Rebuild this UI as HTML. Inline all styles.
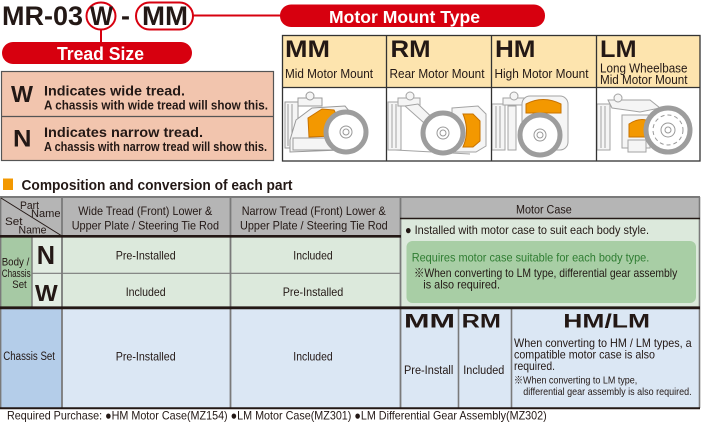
<!DOCTYPE html>
<html><head><meta charset="utf-8"><style>
html,body{margin:0;padding:0;background:#fff;}
svg{display:block;}
text{font-family:"Liberation Sans","Noto Sans CJK JP",sans-serif;fill:#231815;}
.b{font-weight:bold;}
</style></head><body>
<svg width="701" height="427" viewBox="0 0 701 427" xmlns="http://www.w3.org/2000/svg">
<rect x="0" y="0" width="701" height="427" fill="#fff"/>
<!-- Title -->
<text x="2" y="25" class="b" font-size="27" textLength="81" lengthAdjust="spacingAndGlyphs">MR-03</text>
<ellipse cx="101" cy="16" rx="14.5" ry="13.5" fill="none" stroke="#d7000f" stroke-width="2"/>
<text x="90" y="25" class="b" font-size="27" textLength="23" lengthAdjust="spacingAndGlyphs">W</text>
<text x="121" y="25" class="b" font-size="27">-</text>
<rect x="136" y="2.5" width="57" height="27" rx="13.5" fill="none" stroke="#d7000f" stroke-width="2"/>
<text x="142" y="25" class="b" font-size="27" textLength="46" lengthAdjust="spacingAndGlyphs">MM</text>
<line x1="193" y1="15.5" x2="284" y2="15.5" stroke="#d7000f" stroke-width="2"/>
<line x1="101" y1="30" x2="101" y2="43" stroke="#d7000f" stroke-width="2"/>
<rect x="280" y="4.5" width="265" height="22.5" rx="11" fill="#d7000f"/>
<text x="329" y="23" class="b" font-size="17.5" style="fill:#fff" textLength="151" lengthAdjust="spacingAndGlyphs">Motor Mount Type</text>
<rect x="2" y="42" width="190" height="22" rx="11" fill="#d7000f"/>
<text x="57" y="60" class="b" font-size="18" style="fill:#fff" textLength="87" lengthAdjust="spacingAndGlyphs">Tread Size</text>

<!-- Tread box -->
<rect x="1.5" y="71.5" width="272" height="89" fill="#f2c5ae" stroke="#555" stroke-width="1.2"/>
<line x1="1.5" y1="116.5" x2="273.5" y2="116.5" stroke="#555" stroke-width="1.2"/>
<text x="11" y="102" class="b" font-size="23" textLength="22" lengthAdjust="spacingAndGlyphs">W</text>
<text x="44" y="95.5" class="b" font-size="14" textLength="141" lengthAdjust="spacingAndGlyphs">Indicates wide tread.</text>
<text x="44" y="109.5" class="b" font-size="12.5" textLength="224" lengthAdjust="spacingAndGlyphs">A chassis with wide tread will show this.</text>
<text x="13" y="146.5" class="b" font-size="24" textLength="18.5" lengthAdjust="spacingAndGlyphs">N</text>
<text x="44" y="137" class="b" font-size="14" textLength="159" lengthAdjust="spacingAndGlyphs">Indicates narrow tread.</text>
<text x="44" y="151" class="b" font-size="12.5" textLength="223" lengthAdjust="spacingAndGlyphs">A chassis with narrow tread will show this.</text>

<!-- Motor mount table -->
<rect x="282" y="35" width="418" height="52" fill="#fde4ae"/>
<rect x="282" y="87" width="418" height="74" fill="#fff"/>
<text x="285" y="57" class="b" font-size="24" textLength="45" lengthAdjust="spacingAndGlyphs">MM</text>
<text x="390.5" y="57" class="b" font-size="24" textLength="40" lengthAdjust="spacingAndGlyphs">RM</text>
<text x="495" y="57" class="b" font-size="24" textLength="40.5" lengthAdjust="spacingAndGlyphs">HM</text>
<text x="600" y="57" class="b" font-size="24" textLength="36.5" lengthAdjust="spacingAndGlyphs">LM</text>
<text x="285" y="78" font-size="12.5" textLength="88" lengthAdjust="spacingAndGlyphs">Mid Motor Mount</text>
<text x="389.5" y="78" font-size="12.5" textLength="95" lengthAdjust="spacingAndGlyphs">Rear Motor Mount</text>
<text x="494.5" y="78" font-size="12.5" textLength="94" lengthAdjust="spacingAndGlyphs">High Motor Mount</text>
<text x="600" y="72.5" font-size="12.5" textLength="87.5" lengthAdjust="spacingAndGlyphs">Long Wheelbase</text>
<text x="600" y="84" font-size="12.5" textLength="87.5" lengthAdjust="spacingAndGlyphs">Mid Motor Mount</text>

<!-- photos -->
<g fill="#f5f5f5" stroke="#9a9a9a" stroke-width="1">
 <rect x="285" y="102" width="13" height="46"/><line x1="288" y1="104" x2="288" y2="146"/><line x1="292" y1="104" x2="292" y2="146"/>
 <rect x="298" y="98" width="24" height="8"/><circle cx="310" cy="96" r="4"/>
 <path d="M296 120 L312 108 L345 106 L350 112 L340 150 L290 152 L290 140 Z"/>
 <rect x="293" y="138" width="40" height="12"/>
</g>
<path d="M308 118 L322 109 L334 110 L338 118 L334 136 L309 137 Z" fill="#f39800" stroke="#c87200" stroke-width="1"/>
<g stroke="#a3a3a3" fill="#f5f5f5">
 <rect x="388" y="102" width="13" height="48"/><line x1="392" y1="104" x2="392" y2="148"/><line x1="396" y1="104" x2="396" y2="148"/>
 <rect x="398" y="98" width="22" height="8"/><circle cx="410" cy="96" r="4"/>
 <path d="M405 106 L418 104 L440 125 L432 130 Z"/>
 <path d="M452 108 L478 106 L486 114 L486 146 L476 152 L452 152 Z"/>
 <line x1="395" y1="150" x2="470" y2="154"/>
</g>
<path d="M463 114 L473 114 L480 121 L480 141 L473 147 L463 147 Q470 131 463 114 Z" fill="#f39800" stroke="#c87200"/>
<g stroke="#a3a3a3" fill="#f5f5f5">
 <rect x="492" y="104" width="13" height="46"/><line x1="496" y1="106" x2="496" y2="148"/><line x1="500" y1="106" x2="500" y2="148"/>
 <rect x="503" y="98" width="22" height="7"/><circle cx="514" cy="96" r="4"/>
 <rect x="522" y="96" width="46" height="54" rx="8"/>
 <path d="M508 106 L516 106 L516 150 L508 150 Z"/>
</g>
<path d="M526 113 L526 104 Q543 95 561 104 L561 113 Z" fill="#f39800" stroke="#c87200"/>
<g stroke="#a3a3a3" fill="#f5f5f5">
 <rect x="597" y="104" width="13" height="46"/><line x1="601" y1="106" x2="601" y2="148"/><line x1="605" y1="106" x2="605" y2="148"/>
 <path d="M608 100 L650 100 L660 108 L640 112 L612 108 Z"/>
 <circle cx="618" cy="98" r="4"/>
 <rect x="622" y="115" width="28" height="33"/>
 <rect x="628" y="140" width="18" height="12"/>
</g>
<path d="M629 124 Q638 118 646 120 L646 137 L629 137 Z" fill="#f39800" stroke="#c87200"/>
<g fill="#fff" stroke="#9d9d9d">
 <circle cx="346" cy="132" r="20" stroke-width="5"/>
 <circle cx="443" cy="133" r="20" stroke-width="5"/>
 <circle cx="540" cy="135" r="20" stroke-width="5"/>
 <circle cx="668" cy="130" r="22" stroke-width="5"/>
</g>
<g fill="none" stroke="#999" stroke-width="1">
 <circle cx="346" cy="132" r="6"/><circle cx="346" cy="132" r="3"/>
 <circle cx="443" cy="133" r="6"/><circle cx="443" cy="133" r="3"/>
 <circle cx="540" cy="135" r="6"/><circle cx="540" cy="135" r="3"/>
 <circle cx="668" cy="130" r="7"/><circle cx="668" cy="130" r="3"/><circle cx="668" cy="130" r="15" stroke-dasharray="4 3"/>
</g>

<g fill="none" stroke="#333" stroke-width="1.3">
 <rect x="282.5" y="35.5" width="417.5" height="125.5"/>
 <line x1="282" y1="87.5" x2="700" y2="87.5"/>
 <line x1="386.5" y1="35" x2="386.5" y2="161"/>
 <line x1="491.5" y1="35" x2="491.5" y2="161"/>
 <line x1="596.5" y1="35" x2="596.5" y2="161"/>
</g>

<!-- Section heading -->
<rect x="3" y="178.5" width="10" height="11.5" fill="#f39800"/>
<text x="21.5" y="190" class="b" font-size="14.5" textLength="271" lengthAdjust="spacingAndGlyphs">Composition and conversion of each part</text>

<!-- Table backgrounds -->
<rect x="0" y="197" width="400" height="39" fill="#b5b5b5"/>
<rect x="400" y="197" width="300" height="21" fill="#b5b5b5"/>
<rect x="62" y="237" width="338" height="70" fill="#dce9dc"/>
<rect x="400" y="219" width="300" height="88" fill="#dce9dc"/>
<rect x="0" y="237" width="32" height="70" fill="#a6c9a4"/>
<rect x="32" y="237" width="30" height="70" fill="#e2ede2"/>
<rect x="0" y="309" width="62" height="99" fill="#b4cde9"/>
<rect x="62" y="309" width="638" height="99" fill="#dbe7f4"/>
<rect x="406.5" y="241" width="289.5" height="62" rx="6" fill="#a8cea5"/>

<!-- Table lines -->
<g stroke="#7a7a7a" fill="none">
 <line x1="0" y1="197" x2="700" y2="197" stroke-width="2"/>
 <line x1="0.7" y1="197" x2="0.7" y2="408" stroke-width="1.4"/>
 <line x1="62" y1="197" x2="62" y2="408" stroke-width="1.8"/>
 <line x1="230.5" y1="197" x2="230.5" y2="408" stroke-width="1.8"/>
 <line x1="400.5" y1="197" x2="400.5" y2="408" stroke-width="1.8"/>
 <line x1="699.5" y1="197" x2="699.5" y2="408" stroke-width="1.6"/>
 <line x1="32" y1="237" x2="32" y2="307" stroke-width="1.4"/>
 <line x1="32" y1="273.3" x2="400" y2="273.3" stroke-width="1.2"/>
 <line x1="458.5" y1="309" x2="458.5" y2="408" stroke-width="1.6"/>
 <line x1="511.5" y1="309" x2="511.5" y2="408" stroke-width="1.6"/>
</g>
<g stroke="#231815" fill="none">
 <line x1="0" y1="236.3" x2="401" y2="236.3" stroke-width="2.6"/>
 <line x1="400" y1="218.5" x2="700" y2="218.5" stroke-width="1.4"/>
 <line x1="0" y1="307.8" x2="700" y2="307.8" stroke-width="2.8"/>
 <line x1="0" y1="408.2" x2="700" y2="408.2" stroke-width="2"/>
 <line x1="1" y1="198" x2="62" y2="236" stroke-width="1"/>
</g>

<!-- header texts -->
<text x="20" y="209" font-size="11" textLength="19" lengthAdjust="spacingAndGlyphs">Part</text>
<text x="31" y="217" font-size="11" textLength="29.5" lengthAdjust="spacingAndGlyphs">Name</text>
<text x="5" y="225" font-size="11" textLength="17.5" lengthAdjust="spacingAndGlyphs">Set</text>
<text x="18.5" y="233.5" font-size="11" textLength="28" lengthAdjust="spacingAndGlyphs">Name</text>
<text x="78.3" y="215" font-size="12" textLength="134" lengthAdjust="spacingAndGlyphs">Wide Tread (Front) Lower &amp;</text>
<text x="71.7" y="229.5" font-size="12" textLength="147.3" lengthAdjust="spacingAndGlyphs">Upper Plate / Steering Tie Rod</text>
<text x="241.7" y="215" font-size="12" textLength="144" lengthAdjust="spacingAndGlyphs">Narrow Tread (Front) Lower &amp;</text>
<text x="240" y="229.5" font-size="12" textLength="147.7" lengthAdjust="spacingAndGlyphs">Upper Plate / Steering Tie Rod</text>
<text x="516" y="213.3" font-size="11.5" textLength="55.7" lengthAdjust="spacingAndGlyphs">Motor Case</text>

<!-- Body/Chassis rows -->
<text x="1.7" y="265.5" font-size="11" textLength="27.6" lengthAdjust="spacingAndGlyphs">Body /</text>
<text x="1.7" y="277" font-size="11" textLength="29" lengthAdjust="spacingAndGlyphs">Chassis</text>
<text x="12.3" y="288" font-size="11" textLength="14.4" lengthAdjust="spacingAndGlyphs">Set</text>
<text x="36.7" y="264" class="b" font-size="26" textLength="18.3" lengthAdjust="spacingAndGlyphs">N</text>
<text x="35" y="301" class="b" font-size="23" textLength="22.7" lengthAdjust="spacingAndGlyphs">W</text>
<text x="115.7" y="259.3" font-size="12" textLength="60" lengthAdjust="spacingAndGlyphs">Pre-Installed</text>
<text x="293.3" y="259.3" font-size="12" textLength="39.4" lengthAdjust="spacingAndGlyphs">Included</text>
<text x="125.7" y="296" font-size="12" textLength="40" lengthAdjust="spacingAndGlyphs">Included</text>
<text x="282.7" y="296" font-size="12" textLength="60.6" lengthAdjust="spacingAndGlyphs">Pre-Installed</text>

<text x="405" y="234" font-size="12" textLength="244" lengthAdjust="spacingAndGlyphs">● Installed with motor case to suit each body style.</text>
<text x="411.7" y="261.5" font-size="12" style="fill:#2f7d32" textLength="237.6" lengthAdjust="spacingAndGlyphs">Requires motor case suitable for each body type.</text>
<text x="414" y="277" font-size="12" textLength="263.3" lengthAdjust="spacingAndGlyphs">※When converting to LM type, differential gear assembly</text>
<text x="423.3" y="288.5" font-size="12" textLength="76.7" lengthAdjust="spacingAndGlyphs">is also required.</text>

<!-- Chassis set row -->
<text x="3.3" y="360" font-size="11.5" textLength="51.7" lengthAdjust="spacingAndGlyphs">Chassis Set</text>
<text x="115.7" y="360.7" font-size="12" textLength="60" lengthAdjust="spacingAndGlyphs">Pre-Installed</text>
<text x="293.3" y="360.7" font-size="12" textLength="39.4" lengthAdjust="spacingAndGlyphs">Included</text>
<text x="404" y="327.3" class="b" font-size="19" textLength="51" lengthAdjust="spacingAndGlyphs">MM</text>
<text x="461.7" y="327.3" class="b" font-size="19" textLength="39.3" lengthAdjust="spacingAndGlyphs">RM</text>
<text x="563.3" y="327.3" class="b" font-size="19" textLength="86.7" lengthAdjust="spacingAndGlyphs">HM/LM</text>
<text x="404" y="374" font-size="11.5" textLength="49.3" lengthAdjust="spacingAndGlyphs">Pre-Install</text>
<text x="463.3" y="374" font-size="11.5" textLength="41" lengthAdjust="spacingAndGlyphs">Included</text>
<text x="514" y="347" font-size="12" textLength="177.7" lengthAdjust="spacingAndGlyphs">When converting to HM / LM types, a</text>
<text x="514" y="358.5" font-size="12" textLength="141" lengthAdjust="spacingAndGlyphs">compatible motor case is also</text>
<text x="514" y="370" font-size="12" textLength="41" lengthAdjust="spacingAndGlyphs">required.</text>
<text x="514" y="383.5" font-size="10.5" textLength="123.3" lengthAdjust="spacingAndGlyphs">※When converting to LM type,</text>
<text x="523.3" y="395" font-size="10.5" textLength="168.3" lengthAdjust="spacingAndGlyphs">differential gear assembly is also required.</text>

<!-- footer -->
<text x="7" y="419.5" font-size="12" textLength="539.7" lengthAdjust="spacingAndGlyphs">Required Purchase: ●HM Motor Case(MZ154)  ●LM Motor Case(MZ301)  ●LM Differential Gear Assembly(MZ302)</text>
</svg>
</body></html>
